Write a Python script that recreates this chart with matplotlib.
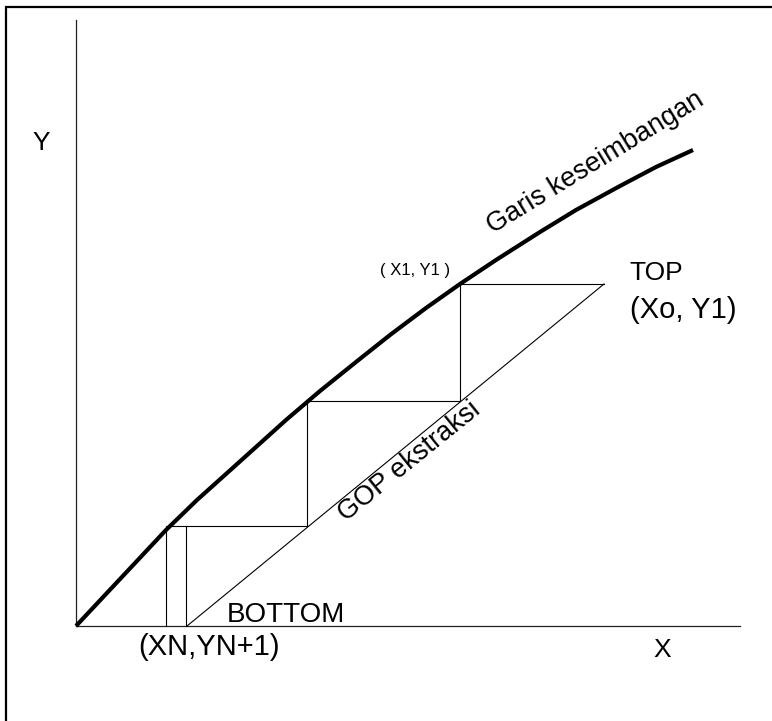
import matplotlib.pyplot as plt
from matplotlib.patches import Rectangle

plt.rcParams["font.family"] = ["Liberation Sans", "DejaVu Sans"]

# equilibrium curve (Garis keseimbangan)
curve_x = [0, 30, 60, 90, 121, 150, 180, 210, 244, 280, 314, 350, 384,
           420, 464, 500, 544, 580, 617]
curve_y = [0, 32, 64, 96, 126, 152, 179, 206, 235, 264, 291, 318, 342,
           366, 394, 416, 440, 459, 476]

# operating line (GOP ekstraksi): bottom -> top
op_x = [111, 528]
op_y = [0, 342]

# stage steps (horizontal then vertical)
step_x = [528, 384, 384, 231, 231, 90, 90]
step_y = [342, 342, 225, 225, 100, 100, 0]
last_x = [110, 110]
last_y = [100, 0]

x_max = 664
y_max = 606


def main():
    fig = plt.figure(figsize=(7.72, 7.21), dpi=100)
    ax = fig.add_axes([0, 0, 1, 1])
    ax.set_xlim(-76, 696)
    ax.set_ylim(-95, 626)
    ax.axis("off")

    # frame around the drawing (runs off the right and bottom)
    ax.add_patch(Rectangle((-70, -300), 1000, 919, fill=False, lw=1.6,
                           edgecolor="black", clip_on=False))

    # axes
    ax.plot([0, 0], [0, y_max], color="#222222", lw=0.9)
    ax.plot([0, x_max], [0, 0], color="#222222", lw=0.9)

    ax.plot(curve_x, curve_y, color="black", lw=3.0, solid_capstyle="butt",
            solid_joinstyle="round")
    ax.plot(op_x, op_y, color="black", lw=0.8)
    ax.plot(step_x, step_y, color="black", lw=0.8)
    ax.plot(last_x, last_y, color="black", lw=0.8)

    ax.text(-35, 483, "Y", fontsize=19, ha="center", va="center")
    ax.text(586, -24, "X", fontsize=19, ha="center", va="center")
    ax.text(553, 346, "TOP", fontsize=19, ha="left", va="baseline")
    ax.text(554, 308, "(Xo, Y1)", fontsize=21, ha="left", va="baseline")
    ax.text(304, 356, "( X1, Y1 )", fontsize=12, ha="left", va="center")
    ax.text(151, 4, "BOTTOM", fontsize=20, ha="left", va="baseline")
    ax.text(62, -21, "(XN,YN+1)", fontsize=21, ha="left", va="center")
    ax.text(417, 392, "Garis keseimbangan", fontsize=19.5, rotation=31.5,
            rotation_mode="anchor", ha="left", va="baseline")
    ax.text(270, 104, "GOP ekstraksi", fontsize=19.5, rotation=39,
            rotation_mode="anchor", ha="left", va="baseline")

    plt.savefig("out.png", dpi=100)


if __name__ == "__main__":
    main()
